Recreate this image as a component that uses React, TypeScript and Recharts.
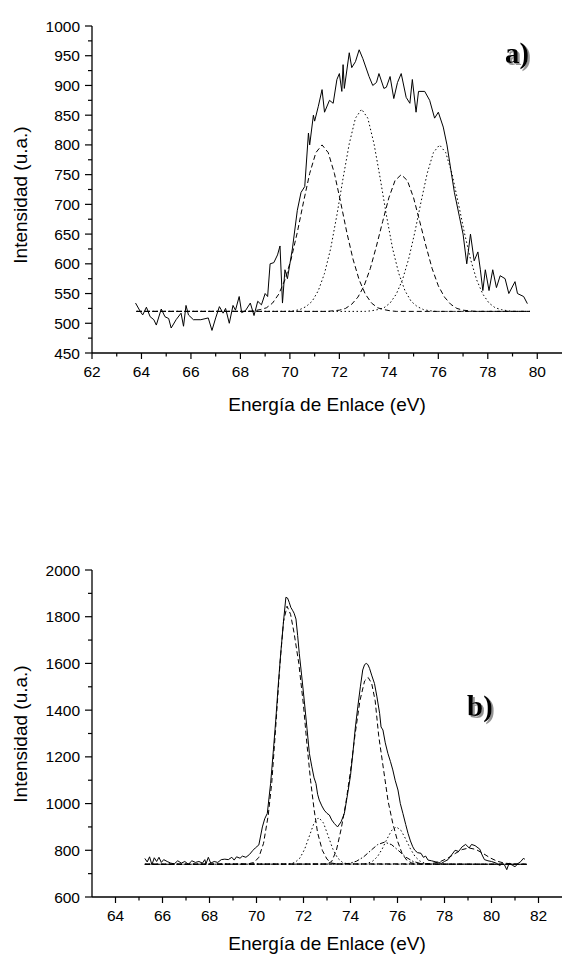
import React from 'react';
import { LineChart, Line, XAxis, YAxis } from 'recharts';

// ---- panel a) : experimental spectrum (energy eV, intensity) ----
const expA: number[][] = [
  [63.76, 534], [63.95, 520], [64.05, 514], [64.2, 527], [64.35, 511], [64.5, 506], [64.6, 497],
  [64.8, 524], [64.95, 511], [65.1, 508], [65.2, 492], [65.4, 506], [65.6, 517], [65.7, 495],
  [65.8, 530], [65.9, 514], [66.1, 506], [66.4, 506], [66.7, 509], [66.85, 488], [67.0, 509],
  [67.15, 528], [67.3, 517], [67.4, 525], [67.55, 500], [67.7, 530], [67.8, 522], [67.95, 545],
  [68.05, 518], [68.2, 521], [68.4, 534], [68.55, 513], [68.7, 537], [68.85, 531], [69.0, 550],
  [69.1, 545], [69.2, 600], [69.35, 602], [69.5, 615], [69.6, 630], [69.7, 534], [69.8, 590],
  [69.9, 575], [70.1, 625], [70.3, 690], [70.45, 720], [70.6, 730], [70.75, 820], [70.8, 800],
  [70.95, 850], [71.0, 840], [71.15, 865], [71.3, 893], [71.4, 855], [71.6, 875], [71.75, 870],
  [71.9, 910], [72.0, 920], [72.1, 890], [72.15, 935], [72.2, 895], [72.4, 955], [72.5, 930],
  [72.65, 940], [72.8, 960], [72.95, 945], [73.2, 915], [73.35, 900], [73.5, 905], [73.6, 920],
  [73.8, 895], [73.9, 897], [74.05, 915], [74.2, 878], [74.35, 905], [74.5, 920], [74.7, 880],
  [74.85, 870], [74.95, 910], [75.1, 855], [75.2, 890], [75.45, 890], [75.65, 875], [75.85, 845],
  [76.0, 855], [76.2, 830], [76.35, 800], [76.5, 760], [76.65, 720], [76.85, 680], [77.0, 650],
  [77.15, 600], [77.3, 650], [77.45, 605], [77.6, 620], [77.7, 590], [77.8, 555], [77.9, 590],
  [78.05, 555], [78.2, 590], [78.35, 560], [78.5, 580], [78.7, 575], [78.85, 550], [79.1, 570],
  [79.2, 550], [79.45, 545], [79.6, 533],
];

// fitted components, panel a)
const fitA1: number[][] = [
  [63.8, 520], [68.3, 520], [68.55, 521], [68.8, 523], [69.05, 526], [69.3, 534], [69.55, 549],
  [69.8, 573], [70.05, 608], [70.3, 653], [70.55, 704], [70.8, 752], [71.05, 787], [71.3, 800],
  [71.55, 787], [71.8, 752], [72.05, 704], [72.3, 653], [72.55, 608], [72.8, 573], [73.05, 549],
  [73.3, 534], [73.55, 526], [73.8, 523], [74.05, 521], [74.3, 520], [79.7, 520],
];
const fitA2: number[][] = [
  [63.8, 520], [69.9, 520], [70.15, 521], [70.4, 523], [70.65, 528], [70.9, 537], [71.15, 555],
  [71.4, 584], [71.65, 626], [71.9, 682], [72.15, 744], [72.4, 802], [72.65, 845], [72.9, 860],
  [73.15, 845], [73.4, 802], [73.65, 744], [73.9, 682], [74.15, 626], [74.4, 584], [74.65, 555],
  [74.9, 537], [75.15, 528], [75.4, 523], [75.65, 521], [75.9, 520], [79.7, 520],
];
const fitA3: number[][] = [
  [63.8, 520], [71.5, 520], [71.75, 521], [72.0, 522], [72.25, 525], [72.5, 532], [72.75, 544],
  [73.0, 563], [73.25, 592], [73.5, 630], [73.75, 671], [74.0, 711], [74.25, 740], [74.5, 750],
  [74.75, 740], [75.0, 711], [75.25, 671], [75.5, 630], [75.75, 592], [76.0, 563], [76.25, 544],
  [76.5, 532], [76.75, 525], [77.0, 522], [77.25, 521], [77.5, 520], [79.7, 520],
];
const fitA4: number[][] = [
  [63.8, 520], [73.05, 520], [73.3, 521], [73.55, 523], [73.8, 526], [74.05, 534], [74.3, 549],
  [74.55, 573], [74.8, 608], [75.05, 653], [75.3, 704], [75.55, 752], [75.8, 787], [76.05, 800],
  [76.3, 787], [76.55, 752], [76.8, 704], [77.05, 653], [77.3, 608], [77.55, 573], [77.8, 549],
  [78.05, 534], [78.3, 526], [78.55, 523], [78.8, 521], [79.05, 520], [79.7, 520],
];

// ---- panel b) ----
const expB: number[][] = [
  [65.25, 765], [65.35, 750], [65.45, 772], [65.55, 738], [65.65, 768], [65.75, 752], [65.85, 770],
  [65.95, 748], [66.05, 760], [66.2, 752], [66.35, 745], [66.5, 742], [66.65, 755], [66.8, 745],
  [66.95, 752], [67.1, 740], [67.25, 755], [67.4, 748], [67.55, 752], [67.7, 745], [67.8, 760],
  [67.85, 742], [67.95, 770], [68.05, 745], [68.2, 752], [68.35, 748], [68.5, 760], [68.65, 762],
  [68.8, 760], [68.95, 770], [69.05, 758], [69.15, 772], [69.3, 766], [69.4, 775], [69.55, 770],
  [69.7, 782], [69.85, 800], [69.95, 810], [70.1, 823], [70.25, 900], [70.35, 935], [70.46, 958],
  [70.6, 1086], [70.72, 1230], [70.82, 1358], [70.92, 1500], [71.03, 1643], [71.15, 1780],
  [71.25, 1883], [71.32, 1880], [71.39, 1862], [71.46, 1840], [71.53, 1828], [71.6, 1815],
  [71.68, 1790], [71.75, 1720], [71.82, 1643], [71.92, 1550], [72.03, 1443], [72.15, 1320],
  [72.25, 1215], [72.35, 1160], [72.45, 1110], [72.53, 1086], [72.6, 1040], [72.67, 1015],
  [72.78, 990], [72.88, 972], [73.0, 958], [73.1, 951], [73.2, 930], [73.31, 915], [73.45, 900],
  [73.6, 922], [73.74, 958], [73.88, 1043], [74.0, 1120], [74.1, 1215], [74.2, 1320], [74.31, 1414],
  [74.42, 1500], [74.52, 1572], [74.6, 1595], [74.67, 1600], [74.74, 1595], [74.81, 1579],
  [74.9, 1550], [75.02, 1514], [75.12, 1460], [75.24, 1386], [75.3, 1328], [75.38, 1315],
  [75.48, 1260], [75.59, 1215], [75.7, 1180], [75.8, 1144], [75.9, 1100], [76.02, 1058],
  [76.12, 1000], [76.23, 958], [76.35, 910], [76.45, 872], [76.55, 840], [76.65, 815], [76.73, 801],
  [76.85, 790], [77.0, 787], [77.1, 770], [77.2, 775], [77.3, 758], [77.45, 755], [77.6, 751],
  [77.75, 748], [77.87, 744], [78.0, 752], [78.15, 760], [78.3, 780], [78.45, 800], [78.6, 795],
  [78.75, 815], [78.9, 825], [79.05, 810], [79.15, 825], [79.3, 820], [79.5, 805], [79.6, 780],
  [79.7, 760], [79.85, 755], [80.0, 752], [80.2, 745], [80.35, 735], [80.45, 742], [80.55, 738],
  [80.65, 717], [80.75, 745], [80.9, 735], [81.0, 730], [81.15, 745], [81.25, 752], [81.35, 765],
  [81.42, 762],
];

const fitB1: number[][] = [
  [65.25, 740], [69.6, 741], [69.9, 748], [70.1, 770], [70.3, 830], [70.5, 950], [70.65, 1090],
  [70.82, 1330], [71.0, 1600], [71.15, 1780], [71.3, 1845], [71.45, 1810], [71.6, 1730],
  [71.8, 1600], [72.0, 1420], [72.15, 1250], [72.3, 1100], [72.45, 975], [72.6, 875], [72.8, 800],
  [73.0, 762], [73.2, 745], [73.5, 741], [81.5, 740],
];
const fitB2: number[][] = [
  [65.25, 740], [73.0, 741], [73.2, 752], [73.4, 800], [73.6, 890], [73.8, 1000], [74.0, 1140],
  [74.2, 1300], [74.4, 1440], [74.6, 1525], [74.75, 1540], [74.9, 1515], [75.05, 1440],
  [75.2, 1290], [75.4, 1150], [75.6, 1010], [75.8, 915], [76.0, 840], [76.2, 785], [76.4, 757],
  [76.6, 746], [76.9, 741], [81.5, 740],
];
const fitB3: number[][] = [
  [65.25, 740], [71.3, 741], [71.45, 742], [71.65, 749], [71.85, 767], [72.05, 805], [72.25, 861],
  [72.45, 917], [72.65, 940], [72.85, 917], [73.05, 861], [73.25, 805], [73.45, 767], [73.65, 749],
  [73.85, 742], [74.0, 741], [81.5, 740],
];
const fitB4: number[][] = [
  [65.25, 740], [74.55, 741], [74.75, 745], [74.95, 754], [75.15, 773], [75.35, 806], [75.55, 848],
  [75.75, 885], [75.95, 900], [76.15, 885], [76.35, 848], [76.55, 806], [76.75, 773], [76.95, 754],
  [77.15, 745], [77.35, 741], [81.5, 740],
];
const fitB5: number[][] = [
  [65.25, 740], [73.65, 741], [73.95, 744], [74.25, 753], [74.55, 771], [74.85, 798], [75.15, 824],
  [75.45, 835], [75.75, 824], [76.05, 798], [76.35, 771], [76.65, 753], [76.95, 744], [77.25, 741],
  [81.5, 740],
];
const fitB6: number[][] = [
  [65.25, 740], [77.25, 742], [77.55, 745], [77.85, 753], [78.15, 767], [78.45, 786], [78.75, 803],
  [79.05, 810], [79.35, 803], [79.65, 786], [79.95, 767], [80.25, 753], [80.55, 745], [80.85, 742],
  [81.5, 740],
];

// axis ticks (majors get a label, the rest are minor ticks)
const xTicksA = [62, 63, 64, 65, 66, 67, 68, 69, 70, 71, 72, 73, 74, 75, 76, 77, 78, 79, 80];
const yTicksA = [450, 475, 500, 525, 550, 575, 600, 625, 650, 675, 700, 725, 750, 775, 800, 825,
  850, 875, 900, 925, 950, 975, 1000];
const xTicksB = [64, 65, 66, 67, 68, 69, 70, 71, 72, 73, 74, 75, 76, 77, 78, 79, 80, 81, 82];
const yTicksB = [600, 700, 800, 900, 1000, 1100, 1200, 1300, 1400, 1500, 1600, 1700, 1800, 1900, 2000];

const SANS = '"Liberation Sans", Arial, sans-serif';
const SERIF = '"Liberation Serif", "Times New Roman", serif';

const pts = (arr: number[][]) => arr.map(([x, y]) => ({ x, y }));

const makeXTick = (step: number) => (props: any) => {
  const { x, y, payload } = props;
  const v = payload.value;
  const major = v % step === 0;
  return (
    <g>
      <line x1={x} y1={y} x2={x} y2={y + (major ? 6 : 3.5)} stroke="#000" strokeWidth={1.2} />
      {major && (
        <text x={x} y={y + 24} textAnchor="middle" fontSize={15.5} fontFamily={SANS} fill="#000">
          {v}
        </text>
      )}
    </g>
  );
};

const makeYTick = (step: number) => (props: any) => {
  const { x, y, payload } = props;
  const v = payload.value;
  const major = v % step === 0;
  return (
    <g>
      <line x1={x - (major ? 7 : 4)} y1={y} x2={x} y2={y} stroke="#000" strokeWidth={1.2} />
      {major && (
        <text x={x - 12} y={y + 5.5} textAnchor="end" fontSize={15.5} fontFamily={SANS} fill="#000">
          {v}
        </text>
      )}
    </g>
  );
};

const DASH = '5 3';
const DOT = '1.5 2.5';
const DASHDOT = '5 2 1.5 2';

function series(data: number[][], dash?: string) {
  return (
    <Line
      data={pts(data)}
      dataKey="y"
      type="linear"
      stroke="#000"
      strokeWidth={1}
      strokeDasharray={dash}
      dot={false}
      activeDot={false}
      isAnimationActive={false}
    />
  );
}

const axisLine = { stroke: '#000', strokeWidth: 1.3 };

export default function App() {
  return (
    <div style={{ position: 'absolute', left: 0, top: 0, width: 562, height: 956, background: '#fff' }}>
      {/* panel a */}
      <div style={{ position: 'absolute', left: 0, top: 0 }}>
        <LineChart width={562} height={430} margin={{ top: 26, right: 0, bottom: 0, left: 0 }}>
          <XAxis
            dataKey="x"
            type="number"
            domain={[62, 81]}
            ticks={xTicksA}
            interval={0}
            height={77}
            tickLine={false}
            tickSize={0}
            tickMargin={0}
            axisLine={axisLine}
            tick={makeXTick(2)}
          />
          <YAxis
            type="number"
            domain={[450, 1000]}
            ticks={yTicksA}
            interval={0}
            width={92}
            tickLine={false}
            tickSize={0}
            tickMargin={0}
            axisLine={axisLine}
            tick={makeYTick(50)}
          />
          {series(fitA1, DASH)}
          {series(fitA2, DOT)}
          {series(fitA3, DASH)}
          {series(fitA4, DOT)}
          {series(expA)}
        </LineChart>
      </div>

      {/* panel b */}
      <div style={{ position: 'absolute', left: 0, top: 470 }}>
        <LineChart width={562} height={486} margin={{ top: 100, right: 0, bottom: 0, left: 0 }}>
          <XAxis
            dataKey="x"
            type="number"
            domain={[63, 83]}
            ticks={xTicksB}
            interval={0}
            height={59}
            tickLine={false}
            tickSize={0}
            tickMargin={0}
            axisLine={axisLine}
            tick={makeXTick(2)}
          />
          <YAxis
            type="number"
            domain={[600, 2000]}
            ticks={yTicksB}
            interval={0}
            width={92}
            tickLine={false}
            tickSize={0}
            tickMargin={0}
            axisLine={axisLine}
            tick={makeYTick(200)}
          />
          {series(fitB1, DASH)}
          {series(fitB2, DASH)}
          {series(fitB3, DOT)}
          {series(fitB4, DOT)}
          {series(fitB5, DASHDOT)}
          {series(fitB6, DASH)}
          {series(expB)}
        </LineChart>
      </div>

      {/* titles and panel letters */}
      <svg width={562} height={956} style={{ position: 'absolute', left: 0, top: 0, pointerEvents: 'none' }}>
        <defs>
          <filter id="letterShadow" x="-20%" y="-20%" width="150%" height="150%">
            <feDropShadow dx={2} dy={2} stdDeviation={0.7} floodColor="#888" floodOpacity={0.9} />
          </filter>
        </defs>
        <text x={327} y={411} textAnchor="middle" fontSize={19} fontFamily={SANS} fill="#000">
          Energía de Enlace (eV)
        </text>
        <text x={327} y={950} textAnchor="middle" fontSize={19} fontFamily={SANS} fill="#000">
          Energía de Enlace (eV)
        </text>
        <text transform="translate(27,195) rotate(-90)" textAnchor="middle" fontSize={19} fontFamily={SANS} fill="#000">
          Intensidad (u.a.)
        </text>
        <text transform="translate(27,734) rotate(-90)" textAnchor="middle" fontSize={19} fontFamily={SANS} fill="#000">
          Intensidad (u.a.)
        </text>
        <text x={505} y={63} fontSize={29} fontWeight="bold" fontFamily={SERIF} fill="#000" filter="url(#letterShadow)">a)</text>
        <text x={467} y={716} fontSize={29} fontWeight="bold" fontFamily={SERIF} fill="#000" filter="url(#letterShadow)">b)</text>
      </svg>
    </div>
  );
}
